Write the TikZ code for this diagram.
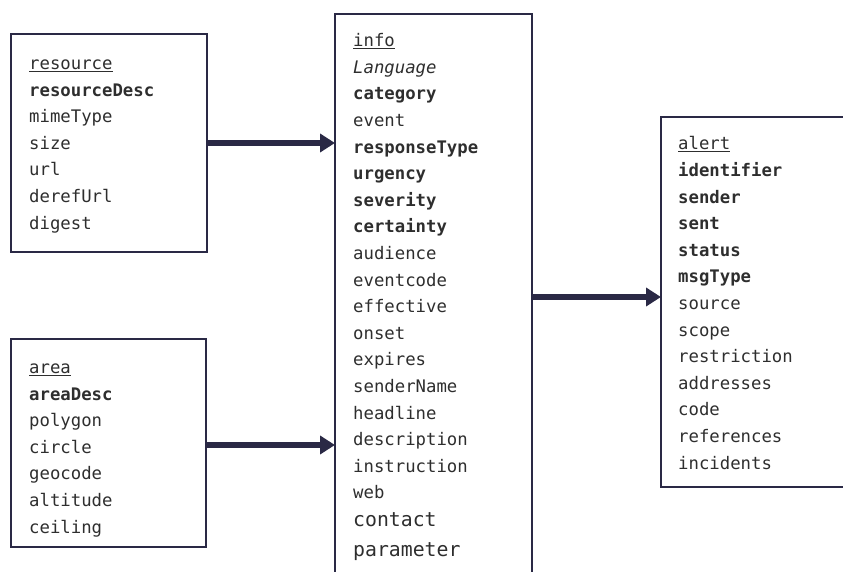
\documentclass[tikz,border=0pt]{standalone}
\usepackage{fontspec}
\usepackage{xcolor}
\usetikzlibrary{arrows.meta}
\usetikzlibrary{positioning}
\newfontfamily\fieldfont{DejaVu Sans Mono}
\definecolor{boxline}{HTML}{2A2945}
\definecolor{fieldtext}{HTML}{2E2E2E}
\tikzstyle{entity} = [rectangle, draw=boxline, line width=2pt, outer sep=0pt, inner sep=0pt, anchor=north west]
\tikzstyle{fieldlist} = [text width=190pt, align=left, inner sep=0pt, anchor=base west, text=fieldtext, font=\fieldfont\fontsize{17.3}{26.6}\selectfont]
\tikzstyle{arrow} = [line width=6pt, draw=boxline, -{Triangle[length=15pt,width=18pt]}]
\newcommand{\bigfield}[1]{{\fontsize{19.8}{26.6}\selectfont #1}}

\begin{document}
\begin{tikzpicture}[x=1pt, y=-1pt]
    \clip (0,0) rectangle (843,572);
    % boxes
    \node (resource) [entity, minimum width=196pt, minimum height=218pt] at (11,34) {};
    \node (area) [entity, minimum width=195pt, minimum height=208pt] at (11,339) {};
    \node (info) [entity, minimum width=197pt, minimum height=600pt] at (335,14) {};
    \node (alert) [entity, minimum width=200pt, minimum height=370pt] at (661,117) {};
    % fields
    \node (resourcefields) [fieldlist] at (29,69.5) {\underline{resource}\\ \textbf{resourceDesc}\\ mimeType\\ size\\ url\\ derefUrl\\ digest};
    \node (areafields) [fieldlist] at (29,373.5) {\underline{area}\\ \textbf{areaDesc}\\ polygon\\ circle\\ geocode\\ altitude\\ ceiling};
    \node (infofields) [fieldlist] at (353,46.7) {\underline{info}\\ \textit{Language}\\ \textbf{category}\\ event\\ \textbf{responseType}\\ \textbf{urgency}\\ \textbf{severity}\\ \textbf{certainty}\\ audience\\ eventcode\\ effective\\ onset\\ expires\\ senderName\\ headline\\ description\\ instruction\\ web\\[1.5pt] \bigfield{contact}\\[3pt] \bigfield{parameter}};
    \node (alertfields) [fieldlist] at (678,150) {\underline{alert}\\ \textbf{identifier}\\ \textbf{sender}\\ \textbf{sent}\\ \textbf{status}\\ \textbf{msgType}\\ source\\ scope\\ restriction\\ addresses\\ code\\ references\\ incidents};
    % links
    \draw [arrow] (resource.east) -- (resource.east -| info.west);
    \draw [arrow] ([yshift=-2pt]area.east) -- ([yshift=-2pt]area.east -| info.west);
    \draw [arrow] ([yshift=5pt]alert.west -| info.east) -- ([yshift=5pt]alert.west);
\end{tikzpicture}
\end{document}
